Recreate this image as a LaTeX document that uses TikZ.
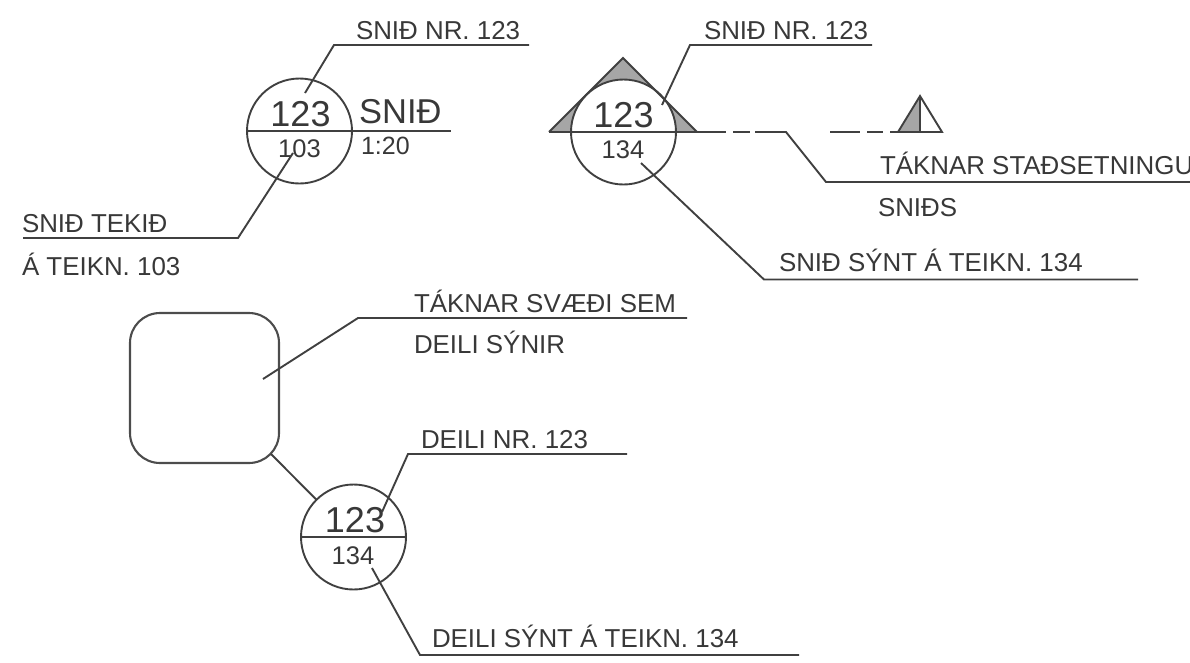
\documentclass[tikz,border=0pt]{standalone}
\usepackage{fontspec}
\setmainfont{Liberation Sans}
\tikzset{
  line/.style={draw=black!75,line width=1.9pt,line join=miter},
  lbl/.style={anchor=base west,inner sep=0pt,outer sep=0pt,text=black!78,font=\fontsize{25.9}{25.9}\selectfont},
  big/.style={anchor=base,inner sep=0pt,text=black!78,font=\fontsize{36}{36}\selectfont},
  small/.style={anchor=base,inner sep=0pt,text=black!78,font=\fontsize{25.5}{25.5}\selectfont},
  circ/.style={circle,draw=black!75,line width=1.9pt,inner sep=0pt,outer sep=0pt,minimum size=105pt},
  tri/.style={fill=black!35,draw=none}
}
\begin{document}
\begin{tikzpicture}[x=1pt,y=-1pt]
\useasboundingbox (0,0) rectangle (1190,662);
% first symbol
\node[circ] (c1) at (299.5,131) {};
\node[big] (n1a) at (300.5,126.5) {123};
\node[small] (n1b) at (299.5,157.5) {103};
\coordinate (c1r) at (451,131);
\draw[line] (c1.west) -- (c1r);
\node[inner sep=0pt,anchor=base west,text=black!78,font=\fontsize{34.5}{34.5}\selectfont] (t1) at (359,123) {SNIÐ};
\node[lbl,font=\fontsize{25}{25}\selectfont] (t2) at (361,154) {1:20};
\coordinate (a1) at (305,93); \coordinate (a2) at (334,45); \coordinate (a3) at (529,45);
\draw[line] (a1) -- (a2) -- (a3);
\node[lbl] (t3) at (356,39) {SNIÐ NR. 123};
\coordinate (b1) at (293,153); \coordinate (b2) at (238,238); \coordinate (b3) at (23,238);
\draw[line] (b1) -- (b2) -- (b3);
\node[lbl] (t4) at (22,232) {SNIÐ TEKIÐ};
\node[lbl] (t5) at (22,275) {Á TEIKN. 103};
% second symbol
\coordinate (tl) at (549,132); \coordinate (tt) at (623,58); \coordinate (tr) at (697,132);
\fill[tri] (tl) -- (tt) -- (tr) -- cycle;
\fill[white] (623.5,132) circle (52.5pt);
\draw[line] (tl) -- (tt) -- (tr);
\node[circ] (c2) at (623.5,132) {};
\node[big] (n2a) at (623.5,127) {123};
\node[small] (n2b) at (623,158) {134};
\coordinate (d1) at (726,132); \coordinate (d2) at (733,132); \coordinate (d3) at (750,132);
\coordinate (d4) at (755,132); \coordinate (d5) at (786,132); \coordinate (d6) at (826,182); \coordinate (d7) at (1190,182);
\draw[line] (tl) -- (d1);
\draw[line] (d2) -- (d3);
\draw[line] (d4) -- (d5) -- (d6) -- (d7);
\node[lbl] (t6) at (880,174) {TÁKNAR STAÐSETNINGU};
\node[lbl] (t7) at (878,216) {SNIÐS};
\coordinate (e1) at (662,105); \coordinate (e2) at (690,45); \coordinate (e3) at (872,45);
\draw[line] (e1) -- (e2) -- (e3);
\node[lbl] (t8) at (704,39) {SNIÐ NR. 123};
\coordinate (f1) at (641,163); \coordinate (f2) at (764,279.5); \coordinate (f3) at (1138,279.5);
\draw[line] (f1) -- (f2) -- (f3);
\node[lbl] (t9) at (779,271) {SNIÐ SÝNT Á TEIKN. 134};
% small marker
\coordinate (g1) at (830,132); \coordinate (g2) at (860,132); \coordinate (g3) at (867,132); \coordinate (g4) at (883,132);
\coordinate (g5) at (890,132); \coordinate (g6) at (942,132); \coordinate (g7) at (898,132); \coordinate (g8) at (920,96); \coordinate (g9) at (920,132);
\fill[tri] (g7) -- (g8) -- (g9) -- cycle;
\draw[line] (g1) -- (g2);
\draw[line] (g3) -- (g4);
\draw[line] (g5) -- (g6) -- (g8) -- (g7);
\draw[line] (g8) -- (g9);
% third symbol
\node[draw=black!70,line width=2.1pt,rounded corners=30pt,minimum width=149pt,minimum height=150pt,inner sep=0pt,outer sep=0pt] (r) at (204.5,388) {};
\coordinate (h1) at (263,379); \coordinate (h2) at (358,318); \coordinate (h3) at (687,318);
\draw[line] (h1) -- (h2) -- (h3);
\node[lbl] (t10) at (414,312) {TÁKNAR SVÆÐI SEM};
\node[lbl] (t11) at (414,353) {DEILI SÝNIR};
\node[circ] (c3) at (353.5,537) {};
\draw[line] (c3.west) -- (c3.east);
\node[big] (n3a) at (355,532) {123};
\node[small] (n3b) at (353,564) {134};
\coordinate (i1) at (271,454);
\draw[line] (i1) -- (c3);
\coordinate (j1) at (382,512); \coordinate (j2) at (408,454); \coordinate (j3) at (627,454);
\draw[line] (j1) -- (j2) -- (j3);
\node[lbl] (t12) at (421,448) {DEILI NR. 123};
\coordinate (k1) at (372,568); \coordinate (k2) at (420,655); \coordinate (k3) at (799,655);
\draw[line] (k1) -- (k2) -- (k3);
\node[lbl] (t13) at (432,647) {DEILI SÝNT Á TEIKN. 134};
\end{tikzpicture}
\end{document}
